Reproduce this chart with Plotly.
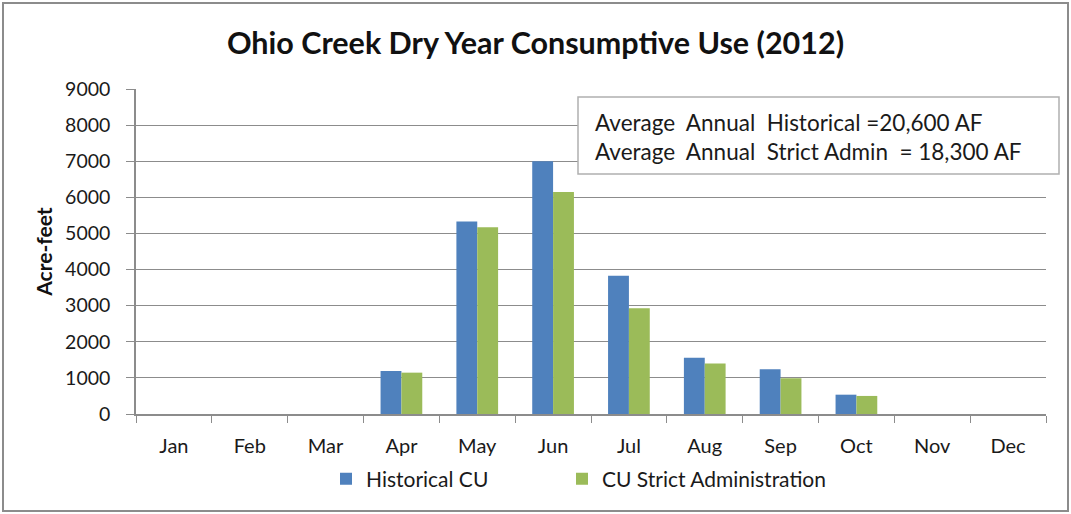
import plotly.graph_objects as go

months = ["Jan", "Feb", "Mar", "Apr", "May", "Jun", "Jul", "Aug", "Sep", "Oct", "Nov", "Dec"]
historical_cu = [0, 0, 0, 1190, 5330, 7000, 3830, 1560, 1240, 535, 0, 0]
strict_admin_cu = [0, 0, 0, 1145, 5170, 6150, 2930, 1395, 990, 500, 0, 0]
y_ticks = [0, 1000, 2000, 3000, 4000, 5000, 6000, 7000, 8000, 9000]

FONT = "Lato"
W, H = 1071, 514
L, R, T, B = 136, 25, 89, 100
PW, PH = W - L - R, H - T - B

def px_x(px):
    return (px - L) / PW

def px_y(py):
    return (H - B - py) / PH

fig = go.Figure()
fig.add_trace(go.Bar(x=months, y=historical_cu, name="Historical CU", legend="legend",
                     marker=dict(color="#4F81BD", line=dict(width=0))))
fig.add_trace(go.Bar(x=months, y=strict_admin_cu, name="CU Strict Administration", legend="legend2",
                     marker=dict(color="#9BBB59", line=dict(width=0))))

leg_common = dict(orientation="h", yanchor="middle", xanchor="left",
                  font=dict(family=FONT, size=21, color="#1a1a1a"),
                  bgcolor="rgba(0,0,0,0)", itemwidth=30)

fig.update_layout(
    width=W, height=H,
    margin=dict(l=L, r=R, t=T, b=B),
    paper_bgcolor="white", plot_bgcolor="white",
    font=dict(family=FONT, color="#1a1a1a", size=20),
    barmode="group", bargap=0.45, bargroupgap=0,
    title=dict(text="<b>Ohio Creek Dry Year Consumptive Use (2012)</b>",
               x=0.5, xanchor="center", xref="container", y=1 - 43 / H, yanchor="middle",
               font=dict(family=FONT, size=30.5, color="#111111")),
    showlegend=True,
    legend=dict(x=px_x(326), y=px_y(479), **leg_common),
    legend2=dict(x=px_x(562), y=px_y(479), **leg_common),
)
fig.update_xaxes(
    type="category", showgrid=False, showline=True, linecolor="#8c8c8c", linewidth=1.5,
    ticks="outside", tickson="boundaries", ticklen=7, tickcolor="#8c8c8c",
    tickfont=dict(family=FONT, size=20, color="#1a1a1a"), ticklabelstandoff=13,
)
fig.update_yaxes(
    range=[0, 9000], tickvals=y_ticks, showgrid=True, gridcolor="#8c8c8c", gridwidth=1.3,
    showline=True, linecolor="#8c8c8c", linewidth=1.5, zeroline=False,
    ticks="outside", ticklen=8, tickcolor="#8c8c8c",
    tickfont=dict(family=FONT, size=19.5, color="#1a1a1a"), ticklabelstandoff=12,
    title=dict(text="<b>Acre-feet</b>", font=dict(family=FONT, size=21, color="#111111"), standoff=7),
)

# annotation box
fig.add_shape(type="rect", xref="paper", yref="paper",
              x0=px_x(578), x1=px_x(1059), y0=px_y(174), y1=px_y(97),
              line=dict(color="#b0b0b0", width=1.5), fillcolor="white", layer="above")
fig.add_annotation(
    xref="paper", yref="paper", x=px_x(593), y=px_y(137), xanchor="left", yanchor="middle",
    text="Average  Annual  Historical =20,600 AF<br>Average  Annual  Strict Admin  = 18,300 AF",
    showarrow=False, align="left",
    font=dict(family=FONT, size=22.5, color="#1a1a1a"),
)

# outer chart border
fig.add_shape(type="rect", xref="paper", yref="paper",
              x0=px_x(3), x1=px_x(1068), y0=px_y(511), y1=px_y(3),
              line=dict(color="#8c8c8c", width=2), fillcolor="rgba(0,0,0,0)", layer="below")

fig.write_html("out.html", config={"displayModeBar": False},
               post_script="document.body.style.margin='0px';")
